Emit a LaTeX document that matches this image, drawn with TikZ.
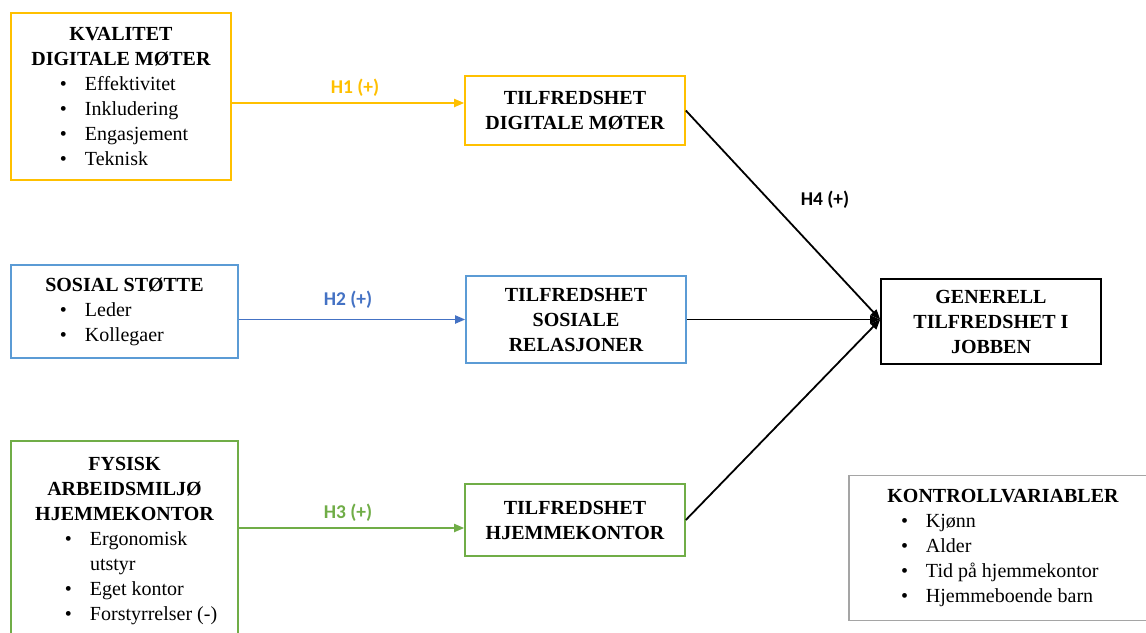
\documentclass[tikz,border=0pt]{standalone}
\usepackage{fontspec}
\setmainfont{Liberation Serif}
\newfontfamily\hfont{Carlito}
\usetikzlibrary{arrows.meta}
\definecolor{yel}{HTML}{FFC000}
\definecolor{blu}{HTML}{4472C4}
\definecolor{bluebox}{HTML}{5B9BD5}
\definecolor{grn}{HTML}{70AD47}
\definecolor{gry}{HTML}{A5A5A5}
\newcommand{\bul}{\par\noindent\makebox[0pt][r]{\textbullet\hspace{18pt}}}
\newcommand{\ttl}[1]{{\centering\bfseries #1\par}}
\tikzset{
  box/.style={rectangle, line width=1.6pt, inner sep=0pt, align=center,
    font=\fontsize{20}{25}\selectfont},
  listbox/.style={box, align=none},
  hyp/.style={font=\hfont\bfseries\fontsize{19.5}{21}\selectfont, inner sep=1pt},
  arr/.style={line width=1.8pt, -{Triangle[length=10pt,width=8pt]}},
}
\begin{document}
\begin{tikzpicture}[x=1pt,y=-1pt]
\useasboundingbox[fill=white] (0,0) rectangle (1146,632);
% left boxes
\node[listbox, draw=yel, text width=220pt, minimum height=167pt] (kdm) at (121,96.5)
 {\ttl{KVALITET\\DIGITALE MØTER}\leftskip=74pt
  \bul Effektivitet\bul Inkludering\bul Engasjement\bul Teknisk\par};
\node[listbox, draw=bluebox, text width=227pt, minimum height=93pt] (ss) at (124.5,311.5)
 {\ttl{SOSIAL STØTTE}\leftskip=74pt
  \bul Leder\bul Kollegaer\par};
\node[listbox, draw=grn, text width=227pt, minimum height=200pt] (fa) at (124.5,541)
 {\ttl{FYSISK\\ARBEIDSMILJØ\\HJEMMEKONTOR}\leftskip=79pt
  \bul Ergonomisk\\utstyr\bul Eget kontor\bul Forstyrrelser (-)\par};
% middle boxes
\node[box, draw=yel, minimum width=220pt, minimum height=69pt, font=\fontsize{20}{25}\selectfont\bfseries] (tdm) at (575,110.5)
 {TILFREDSHET\\DIGITALE MØTER};
\node[box, draw=bluebox, minimum width=220pt, minimum height=87pt, font=\fontsize{20}{25}\selectfont\bfseries] (tsr) at (576,319.5)
 {TILFREDSHET\\SOSIALE\\RELASJONER};
\node[box, draw=grn, minimum width=220pt, minimum height=72pt, font=\fontsize{20}{25}\selectfont\bfseries] (thk) at (575,520)
 {TILFREDSHET\\HJEMMEKONTOR};
% right boxes
\node[box, draw=black, minimum width=220pt, minimum height=85pt, font=\fontsize{20}{25}\selectfont\bfseries] (gen) at (991,321.5)
 {GENERELL\\TILFREDSHET I\\JOBBEN};
\node[listbox, draw=gry, text width=308pt, minimum height=145pt] (kv) at (1003,548)
 {\ttl{KONTROLLVARIABLER}\leftskip=77pt
  \bul Kjønn\bul Alder\bul Tid på hjemmekontor\bul Hjemmeboende barn\par};
% connectors
\coordinate (p1) at (0,103);
\coordinate (p3) at (0,528);
\draw[arr, yel] (kdm.east |- p1) -- (tdm.west |- p1);
\draw[arr, blu] (ss.east |- tsr.west) -- (tsr.west);
\draw[arr, grn] (fa.east |- p3) -- (thk.west |- p3);
\coordinate (cv) at (gen.west |- tsr.east);
\draw[arr, black] (tdm.east) -- (cv);
\draw[arr, black] (tsr.east) -- (cv);
\draw[arr, black] (thk.east) -- (cv);
% labels
\node[hyp, text=yel] (h1) at (355,88) {H1 (+)};
\node[hyp, text=blu] (h2) at (348,300) {H2 (+)};
\node[hyp, text=grn] (h3) at (348,513) {H3 (+)};
\node[hyp, text=black] (h4) at (825,200) {H4 (+)};
\end{tikzpicture}
\end{document}
